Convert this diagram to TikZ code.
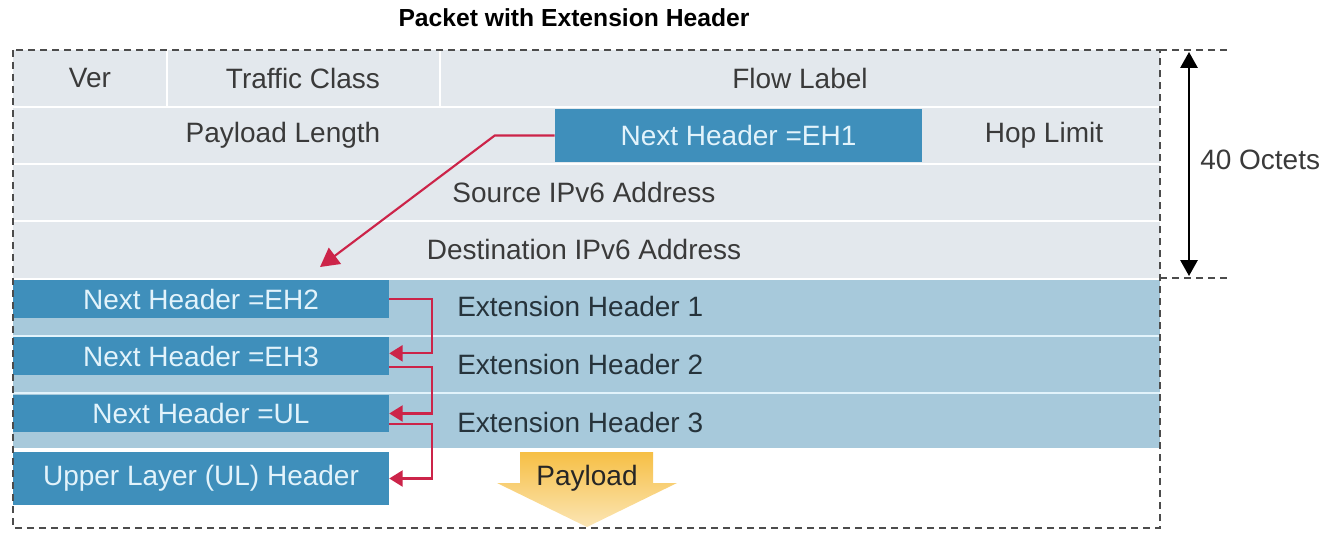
\documentclass[tikz,border=0pt]{standalone}
\usepackage{fontspec}
\setmainfont{Liberation Sans}
\usetikzlibrary{arrows.meta,fit}
\definecolor{rowgray}{HTML}{E3E8ED}
\definecolor{bandblue}{HTML}{A7C9DB}
\definecolor{boxblue}{HTML}{3F8FBB}
\definecolor{boxtext}{HTML}{E2F3FB}
\definecolor{linkred}{HTML}{CC2449}
\definecolor{payyellow}{HTML}{F6BF45}
\definecolor{txtgray}{HTML}{3A3A3A}
\definecolor{exttext}{HTML}{26333B}
\tikzset{
  field/.style={text=txtgray,inner sep=0pt,font=\fontsize{21}{25}\selectfont},
  nhbox/.style={fill=boxblue,inner sep=0pt,
    label={[text=boxtext,font=\fontsize{21}{25}\selectfont]center:#1}},
  link/.style={linkred,line width=1.6pt,-{Triangle[length=10pt,width=12pt]}},
  frame/.style={gray!60!black,line width=1.1pt,dash pattern=on 5pt off 4pt},
}
\begin{document}
\begin{tikzpicture}[x=0.75pt,y=-0.75pt]
\useasboundingbox (0,0) rectangle (1334,535);
\node[font=\fontsize{18.5}{22}\selectfont\bfseries] (title) at (574,18) {Packet with Extension Header};
% IPv6 header, 40 octets
\fill[rowgray] (13,50) rectangle (1160,278);
\fill[bandblue] (13,280) rectangle (1160,448);
\foreach \y in {107,164,221} \draw[white,line width=2pt] (13,\y)--(1160,\y);
\foreach \x in {167,440} \draw[white,line width=2pt] (\x,50)--(\x,107);
\foreach \y in {336,393} \draw[boxtext,line width=2pt] (13,\y)--(1160,\y);
\node[field] (ver) at (90,78) {Ver};
\node[field] (tclass) at (303,78) {Traffic Class};
\node[field] (flow) at (800,78) {Flow Label};
\node[field] (plen) at (283,135) {Payload Length};
\node[field] (hop) at (1044,135) {Hop Limit};
\node[field] (src) at (584,192) {Source IPv6 Address};
\node[field] (dst) at (584,249) {Destination IPv6 Address};
\node[nhbox={Next Header =EH1},fit={(555,109)(922,162)}] (eh1) {};
% extension headers
\foreach \n/\y in {1/306,2/364,3/422}
  \node[field,text=exttext,anchor=west] (ext\n) at (457,\y) {Extension Header \n};
\node[nhbox={Next Header =EH2},fit={(13,280)(389,318)}] (eh2) {};
\node[nhbox={Next Header =EH3},fit={(13,337)(389,375)}] (eh3) {};
\node[nhbox={Next Header =UL},fit={(13,395)(389,432)}] (ul) {};
\node[nhbox={Upper Layer (UL) Header},fit={(13,452)(389,505)}] (ulh) {};
% payload
\shade[top color=payyellow,bottom color=payyellow!40] (520,452)--(653,452)--(653,483)--(677,483)--(587,527)--(497,483)--(520,483)--cycle;
\node[field,text=black!85] (payload) at (587,478) {Payload};
% frame
\draw[frame] (13,50) rectangle (1160,528);
\coordinate (fr1) at (1160,50);
\coordinate (fr2) at (1160,278);
\draw[frame] (fr1)--++(68,0);
\draw[frame] (fr2)--++(68,0);
\coordinate (octtop) at (1189,52);
\coordinate (octbot) at (1189,276);
\draw[line width=1.5pt,{Triangle[length=12pt,width=13pt]}-{Triangle[length=12pt,width=13pt]}] (octtop)--(octbot);
\node[field,anchor=west] (octets) at (1200,160) {40 Octets};
% next header chain
\coordinate (eh1tip) at (320,267);
\draw[link,-{Triangle[length=14pt,width=15pt]}] (eh1.west)--++(-60,0)--(eh1tip);
\draw[link] (eh2.east)--++(43,0)|-([yshift=2pt]eh3.east);
\draw[link] ([yshift=-8pt]eh3.east)--++(43,0)|-(ul.east);
\draw[link] ([yshift=-8pt]ul.east)--++(43,0)|-(ulh.east);

\end{tikzpicture}
\end{document}
